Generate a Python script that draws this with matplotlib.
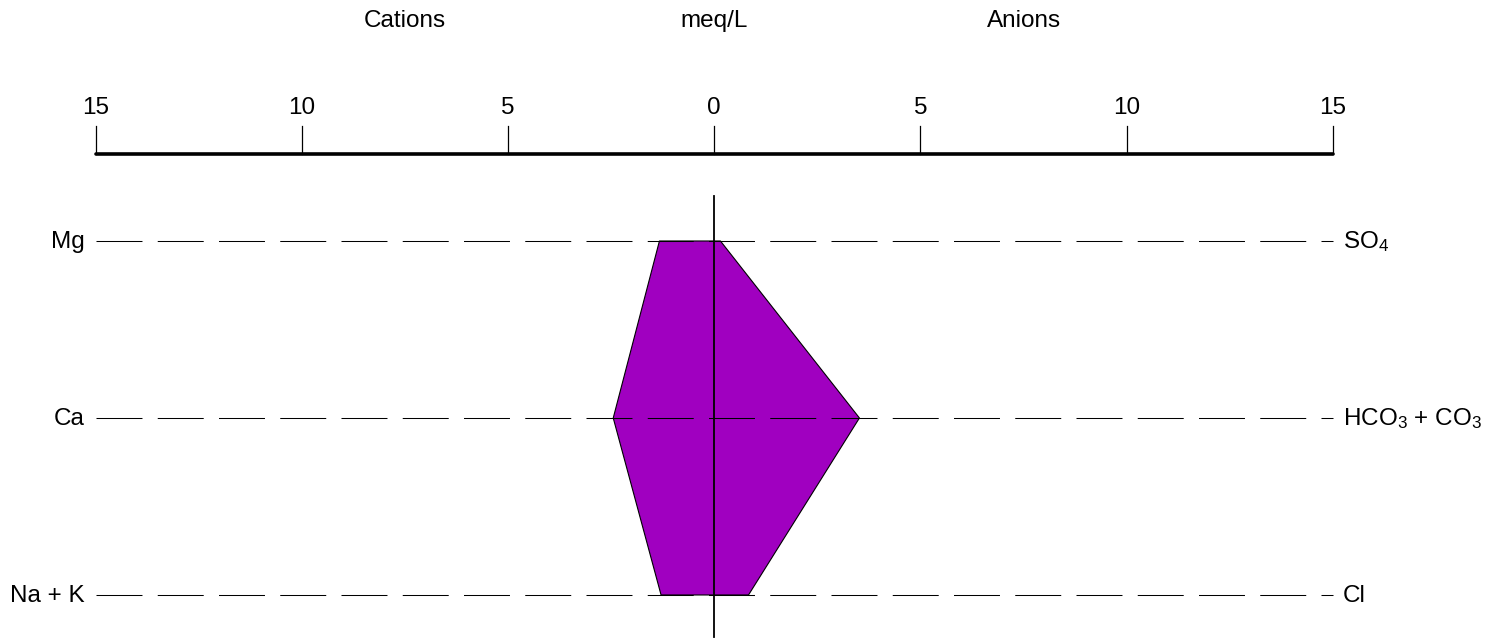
import matplotlib
matplotlib.use("Agg")
import matplotlib.pyplot as plt

plt.rcParams['font.family'] = ['Liberation Sans', 'DejaVu Sans']
plt.rcParams['mathtext.fontset'] = 'custom'
plt.rcParams['mathtext.rm'] = 'Liberation Sans'
plt.rcParams['mathtext.default'] = 'rm'
plt.rcParams['lines.scale_dashes'] = False

# Stiff diagram values (meq/L)
cation_labels = ['Mg', 'Ca', 'Na + K']
anion_labels = ['SO$_4$', 'HCO$_3$ + CO$_3$', 'Cl']
cations = [1.33, 2.45, 1.29]
anions = [0.15, 3.52, 0.83]
tick_pos = [-15, -10, -5, 0, 5, 10, 15]
tick_labels = ['15', '10', '5', '0', '5', '10', '15']
xmax = 15

FS = 17.5
PURPLE = '#a000c0'

fig = plt.figure(figsize=(14.97, 6.41), dpi=100)
ax = fig.add_axes([0, 0, 1, 1])
ax.set_xlim(-17.32, 18.98)
ax.set_ylim(2.26, -1.3616)
ax.axis('off')

rows = list(range(len(cations)))

# polygon
xs = [-c for c in cations] + anions[::-1]
ys = rows + rows[::-1]
ax.fill(xs, ys, facecolor=PURPLE, edgecolor='black', linewidth=0.8, zorder=2)

# centre line
ax.plot([0, 0], [-0.254, 2.237], color='black', linewidth=1.3, zorder=3)

# dashed row lines and labels
for i in rows:
    ax.plot([-xmax, xmax], [i, i], color='black', linewidth=0.75,
            dashes=(33.1, 11), zorder=3)
    ax.text(-xmax - 0.26, i + 0.04, cation_labels[i], ha='right', va='baseline', fontsize=FS)
    ax.text(xmax + 0.24, i + 0.04, anion_labels[i], ha='left', va='baseline', fontsize=FS)

# top scale
axis_y = -0.4915
ax.plot([-xmax, xmax], [axis_y, axis_y], color='black', linewidth=2.6,
        solid_capstyle='round', zorder=3)
for p, lab in zip(tick_pos, tick_labels):
    ax.plot([p, p], [axis_y, -0.652], color='black', linewidth=0.9)
    ax.text(p, -0.718, lab, ha='center', va='baseline', fontsize=FS)

ax.text(-7.5, -1.209, 'Cations', ha='center', va='baseline', fontsize=FS)
ax.text(0, -1.209, 'meq/L', ha='center', va='baseline', fontsize=FS)
ax.text(7.5, -1.209, 'Anions', ha='center', va='baseline', fontsize=FS)

fig.savefig('out.png', dpi=100)
